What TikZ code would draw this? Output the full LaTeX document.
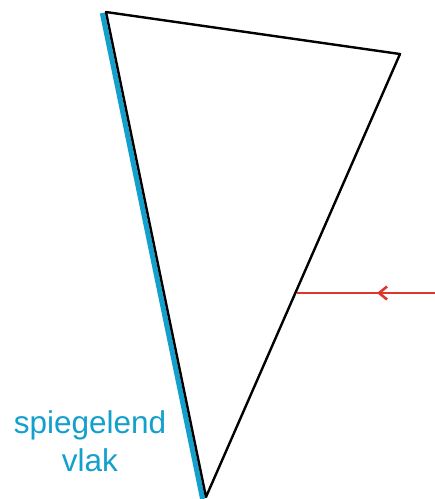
\documentclass[tikz,border=0pt]{standalone}
\usepackage{fontspec}
\setmainfont{Liberation Sans}
\usetikzlibrary{arrows.meta}
\definecolor{mirrorblue}{RGB}{20,160,205}
\definecolor{rayred}{RGB}{220,55,40}
\begin{document}
\begin{tikzpicture}[x=1pt,y=-1pt,line cap=round,line join=round]
  \useasboundingbox[fill=white] (0,0) rectangle (435,499);
  % prism corners
  \coordinate (tl) at (106,12);
  \coordinate (tr) at (400,54);
  \coordinate (bt) at (206,497);
  \coordinate (hit) at (297,293);
  \coordinate (src) at (436,293);
  % mirror surface
  \draw[mirrorblue, line width=5pt, line cap=butt] (102.3,13) -- (202.6,499);
  \draw[line width=2.4pt] (tl) -- (tr) -- (bt) -- cycle;
  % incoming ray
  \draw[rayred, line width=2.6pt, line cap=butt] (src) -- (hit);
  \draw[rayred, line width=2.6pt, -{Straight Barb[length=8pt,width=13pt]}] (390,293) -- (377,293);
  \node[mirrorblue, font=\fontsize{31.5}{38}\selectfont, align=center, anchor=base] (lbl) at (90,471) {spiegelend\\vlak};
\end{tikzpicture}
\end{document}
